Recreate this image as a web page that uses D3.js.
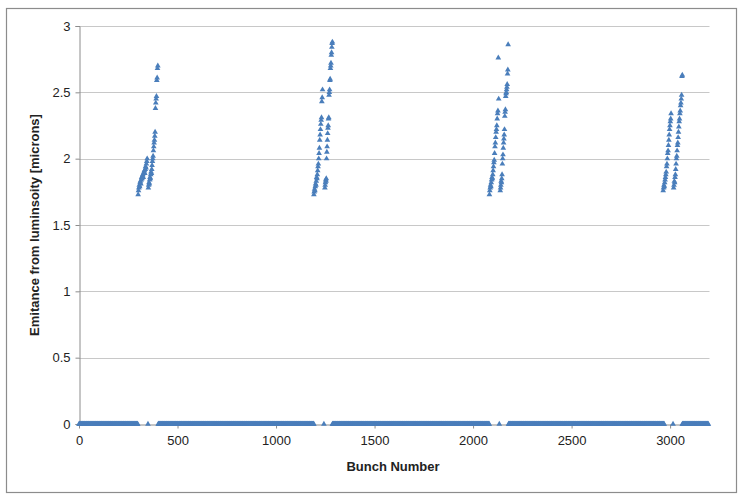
<!DOCTYPE html>
<html>
<head>
<meta charset="utf-8">
<script src="https://cdn.jsdelivr.net/npm/d3@7"></script>
<style>
  body { margin: 0; background: #fff; }
  text { font-family: "Liberation Sans", Arial, sans-serif; }
</style>
</head>
<body>
<svg id="chart" width="740" height="497"></svg>
<script>
// empty / zero-emittance bunch ranges [first, last]
var zeroRanges = [[0, 298], [350, 350], [402, 1192], [1243, 1243], [1286, 2082],
                  [2133, 2133], [2180, 2970], [3015, 3015], [3062, 3195]];

// filled trains: first and last bunch, and emittance read per bunch
var trainStart = [300, 352, 1192, 1248, 2083, 2138, 2965, 3018];
var trainEnd   = [346, 400, 1236, 1286, 2130, 2178, 3005, 3062];
var trainValues = [
  [1.73,1.76,1.78,1.80,1.79,1.82,1.83,1.81,1.84,1.86,1.85,1.87,1.88,1.86,1.89,1.90,1.91,1.89,1.92,1.94,1.93,1.96,1.98,2.00],
  [1.78,1.80,1.82,1.81,1.84,1.86,1.85,1.88,1.90,1.89,1.92,1.95,1.98,2.00,2.02,2.06,2.09,2.12,2.14,2.17,2.20,2.38,2.42,2.45,2.47,2.59,2.61,2.68,2.70],
  [1.73,1.75,1.77,1.76,1.79,1.81,1.80,1.83,1.86,1.85,1.88,1.91,1.94,1.96,2.00,2.04,2.08,2.14,2.18,2.22,2.26,2.29,2.31,2.43,2.46,2.52],
  [1.78,1.80,1.82,1.84,1.83,1.85,2.00,2.05,2.09,2.14,2.19,2.23,2.25,2.30,2.31,2.48,2.50,2.52,2.59,2.60,2.68,2.70,2.72,2.78,2.80,2.84,2.87,2.88],
  [1.73,1.76,1.78,1.80,1.79,1.82,1.84,1.86,1.85,1.88,1.91,1.94,1.97,1.99,2.04,2.09,2.12,2.16,2.20,2.22,2.25,2.30,2.34,2.36,2.76,2.45],
  [1.76,1.78,1.80,1.83,1.82,1.85,1.88,1.96,2.00,2.03,2.08,2.12,2.15,2.18,2.22,2.32,2.35,2.37,2.47,2.49,2.50,2.52,2.54,2.56,2.64,2.67,2.86],
  [1.76,1.78,1.80,1.79,1.82,1.84,1.86,1.88,1.90,1.94,1.96,2.00,2.04,2.06,2.10,2.14,2.18,2.22,2.25,2.28,2.30,2.34],
  [1.78,1.80,1.83,1.82,1.86,1.88,1.92,1.96,2.00,2.02,2.06,2.10,2.12,2.16,2.20,2.24,2.28,2.30,2.34,2.36,2.40,2.42,2.45,2.48,2.62,2.63]
];

var xTicks = [0, 500, 1000, 1500, 2000, 2500, 3000];
var yTicks = [0, 0.5, 1, 1.5, 2, 2.5, 3];

var svg = d3.select("#chart");
var blue = "#4a7ebb";

// chart frame
svg.append("rect")
  .attr("x", 6.5).attr("y", 8.5).attr("width", 730).attr("height", 484)
  .attr("fill", "#fff").attr("stroke", "#8c8c8c").attr("stroke-width", 1.2);

var x = d3.scaleLinear().domain([0, 3200]).range([79, 709.5]);
var y = d3.scaleLinear().domain([0, 3]).range([424, 26]);

// gridlines
svg.append("g").selectAll("line")
  .data(yTicks.slice(1))
  .enter().append("line")
  .attr("x1", x(0)).attr("x2", x(3200))
  .attr("y1", d => Math.round(y(d)) + 0.5).attr("y2", d => Math.round(y(d)) + 0.5)
  .attr("stroke", "#c8c8c8");

// y axis
var yAxis = svg.append("g")
  .attr("transform", "translate(79.5,0)")
  .call(d3.axisLeft(y).tickValues(yTicks).tickSize(4).tickPadding(5).tickFormat(d3.format("")));
yAxis.select(".domain").attr("stroke", "#8c8c8c");
yAxis.selectAll(".tick line").attr("stroke", "#8c8c8c");
yAxis.selectAll("text").attr("font-size", 13).attr("fill", "#222").style("font-family", "Liberation Sans, Arial, sans-serif");

// x axis
var xAxis = svg.append("g")
  .attr("transform", "translate(0,424.5)")
  .call(d3.axisBottom(x).tickValues(xTicks).tickSize(4).tickPadding(7).tickSizeOuter(0).tickFormat(d3.format("d")));
xAxis.select(".domain").attr("stroke", "#8c8c8c");
xAxis.selectAll(".tick line").attr("stroke", "#8c8c8c");
xAxis.selectAll("text").attr("font-size", 13).attr("fill", "#222").style("font-family", "Liberation Sans, Arial, sans-serif");

// points
var points = [];
zeroRanges.forEach(function(r) {
  for (var b = r[0]; b <= r[1]; b += 2) points.push([b, 0]);
});
trainValues.forEach(function(vals, t) {
  var n = vals.length;
  vals.forEach(function(v, i) {
    var b = trainStart[t] + (trainEnd[t] - trainStart[t]) * i / (n - 1);
    points.push([b, v]);
  });
});

var tri = d3.symbol().type(d3.symbolTriangle).size(14);
svg.append("g").selectAll("path")
  .data(points)
  .enter().append("path")
  .attr("d", tri)
  .attr("transform", d => "translate(" + x(d[0]) + "," + y(d[1]) + ")")
  .attr("fill", blue);

// axis titles
svg.append("text")
  .attr("x", 393).attr("y", 471)
  .attr("text-anchor", "middle")
  .attr("font-size", 13).attr("font-weight", "bold").attr("fill", "#222")
  .text("Bunch Number");

svg.append("text")
  .attr("transform", "translate(39,225) rotate(-90)")
  .attr("text-anchor", "middle")
  .attr("font-size", 13).attr("font-weight", "bold").attr("fill", "#222")
  .text("Emitance from luminsoity [microns]");
</script>
</body>
</html>
